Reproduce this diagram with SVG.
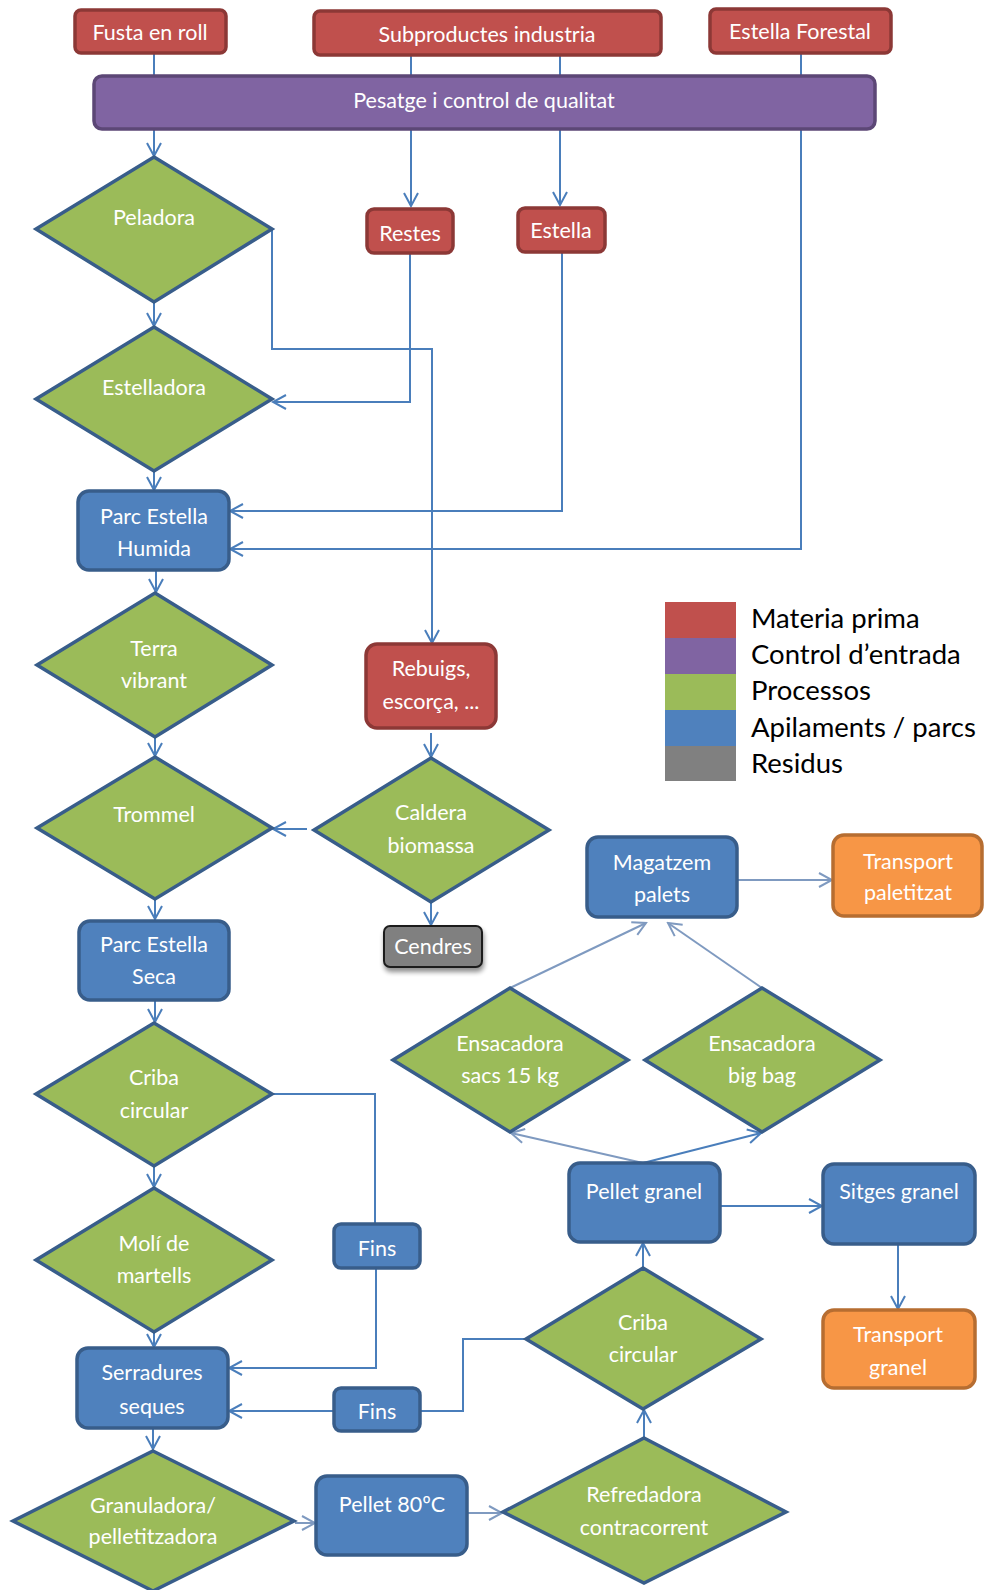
<svg xmlns="http://www.w3.org/2000/svg" width="984" height="1590" viewBox="0 0 984 1590">
<style>
.t{font-family:Lato,"Open Sans","Liberation Sans",sans-serif;font-size:21.5px;fill:#FFFFFF;text-anchor:middle}
.lg{font-family:Lato,"Open Sans","Liberation Sans",sans-serif;font-size:27.5px;fill:#000000}
.red{fill:#C0504D;stroke:#8C3836;stroke-width:3.5}
.pur{fill:#8064A2;stroke:#5C4776;stroke-width:3.5}
.grn{fill:#9BBB59;stroke:#385D8A;stroke-width:3.5;stroke-linejoin:miter}
.blu{fill:#4F81BD;stroke:#385D8A;stroke-width:3.5}
.org{fill:#F79646;stroke:#B66D31;stroke-width:3.5}
.gry{fill:#808080;stroke:#1F1F1F;stroke-width:2}
.c{fill:none;stroke:#4A7EBB;stroke-width:2}
.cl{fill:none;stroke:#7F9AC0;stroke-width:2}
.ca{marker-end:url(#ah)}
.cla{marker-end:url(#ahl)}
</style>
<defs>
<marker id="ah" markerUnits="userSpaceOnUse" markerWidth="16" markerHeight="18" refX="14" refY="8" orient="auto">
<path d="M1,1 L14,8 L1,15" fill="none" stroke="#4A7EBB" stroke-width="2"/>
</marker>
<marker id="ahl" markerUnits="userSpaceOnUse" markerWidth="16" markerHeight="18" refX="14" refY="8" orient="auto">
<path d="M1,1 L14,8 L1,15" fill="none" stroke="#7F9AC0" stroke-width="2"/>
</marker>
<filter id="sh" x="-20%" y="-20%" width="150%" height="160%">
<feGaussianBlur in="SourceAlpha" stdDeviation="2.5"/>
<feOffset dx="1" dy="4" result="b"/>
<feComponentTransfer><feFuncA type="linear" slope="0.45"/></feComponentTransfer>
<feMerge><feMergeNode/><feMergeNode in="SourceGraphic"/></feMerge>
</filter>
</defs>

<g id="connectors">
<path class="c" d="M154,53 V76"/>
<path class="c" d="M411,55 V76"/>
<path class="c" d="M560,55 V76"/>
<path class="c" d="M801,53 V76"/>
<path class="c ca" d="M154,129 V156"/>
<path class="c ca" d="M411,129 V206"/>
<path class="c ca" d="M560,129 V205"/>
<path class="c ca" d="M801,129 V549 H230"/>
<path class="c ca" d="M272,229 V349 H432 V643"/>
<path class="c ca" d="M410,253 V402 H273"/>
<path class="c ca" d="M562,252 V511 H230"/>
<path class="c ca" d="M154,302 V326"/>
<path class="c ca" d="M154,471 V490"/>
<path class="c ca" d="M156,570 V592"/>
<path class="c ca" d="M155,737 V756"/>
<path class="c ca" d="M155,899 V919"/>
<path class="c ca" d="M431,733 V757"/>
<path class="c ca" d="M307,829 H273"/>
<path class="c ca" d="M431,902 V925"/>
<path class="c ca" d="M155,1000 V1022"/>
<path class="c ca" d="M154,1166 V1187"/>
<path class="c ca" d="M154,1332 V1347"/>
<path class="c" d="M272,1094 H375 V1224"/>
<path class="c ca" d="M376,1268 V1368 H229"/>
<path class="c ca" d="M334,1411 H229"/>
<path class="c" d="M526,1339 H463 V1411 H420"/>
<path class="c ca" d="M153,1428 V1449"/>
<path class="cl cla" d="M295,1523 H315"/>
<path class="cl cla" d="M467,1513 H502"/>
<path class="c ca" d="M644,1438 V1410"/>
<path class="c ca" d="M643,1268 V1243"/>
<path class="cl cla" d="M643,1163 L511,1133"/>
<path class="c ca" d="M643,1163 L761,1133"/>
<path class="c ca" d="M720,1206 H822"/>
<path class="c ca" d="M898,1244 V1309"/>
<path class="cl cla" d="M510,988 L646,923"/>
<path class="cl cla" d="M762,988 L668,923"/>
<path class="cl cla" d="M737,880 H832"/>
</g>

<g id="fusta"><rect class="red" x="75" y="10" width="151" height="43" rx="6"/><text class="t" x="150" y="40">Fusta en roll</text></g>
<g id="subproductes"><rect class="red" x="314" y="11" width="347" height="44" rx="6"/><text class="t" x="487" y="42">Subproductes industria</text></g>
<g id="estella-forestal"><rect class="red" x="710" y="9" width="181" height="44" rx="6"/><text class="t" x="800" y="39">Estella Forestal</text></g>
<g id="pesatge"><rect class="pur" x="94" y="76" width="781" height="53" rx="8"/><text class="t" x="484" y="108">Pesatge i control de qualitat</text></g>

<g id="peladora"><polygon class="grn" points="154,157 272,229 154,302 36,229"/><text class="t" x="154" y="225">Peladora</text></g>
<g id="restes"><rect class="red" x="367" y="209" width="86" height="44" rx="7"/><text class="t" x="410" y="241">Restes</text></g>
<g id="estella"><rect class="red" x="518" y="208" width="87" height="44" rx="7"/><text class="t" x="561" y="238">Estella</text></g>
<g id="estelladora"><polygon class="grn" points="154,327 272,399 154,471 36,399"/><text class="t" x="154" y="395">Estelladora</text></g>
<g id="parc-humida"><rect class="blu" x="78" y="491" width="151" height="79" rx="11"/><text class="t" x="154" y="524">Parc Estella</text><text class="t" x="154" y="556">Humida</text></g>
<g id="terra"><polygon class="grn" points="155,593 272,665 155,737 37,665"/><text class="t" x="154" y="656">Terra</text><text class="t" x="154" y="688">vibrant</text></g>
<g id="rebuigs"><rect class="red" x="366" y="644" width="130" height="84" rx="11"/><text class="t" x="431" y="676">Rebuigs,</text><text class="t" x="431" y="709">escorça, ...</text></g>
<g id="trommel"><polygon class="grn" points="155,757 272,828 155,899 37,828"/><text class="t" x="154" y="822">Trommel</text></g>
<g id="caldera"><polygon class="grn" points="431,758 549,830 431,902 314,830"/><text class="t" x="431" y="820">Caldera</text><text class="t" x="431" y="853">biomassa</text></g>
<g id="cendres"><rect class="gry" x="384" y="926" width="98" height="41" rx="6" filter="url(#sh)"/><text class="t" x="433" y="954">Cendres</text></g>
<g id="parc-seca"><rect class="blu" x="79" y="921" width="150" height="79" rx="11"/><text class="t" x="154" y="952">Parc Estella</text><text class="t" x="154" y="984">Seca</text></g>

<g id="legend">
<rect x="665" y="602" width="71" height="36" fill="#C0504D"/>
<rect x="665" y="638" width="71" height="36" fill="#8064A2"/>
<rect x="665" y="674" width="71" height="36" fill="#9BBB59"/>
<rect x="665" y="710" width="71" height="36" fill="#4F81BD"/>
<rect x="665" y="746" width="71" height="35" fill="#808080"/>
<text class="lg" x="751" y="628">Materia prima</text>
<text class="lg" x="751" y="664">Control d’entrada</text>
<text class="lg" x="751" y="700">Processos</text>
<text class="lg" x="751" y="737">Apilaments / parcs</text>
<text class="lg" x="751" y="773">Residus</text>
</g>

<g id="magatzem"><rect class="blu" x="587" y="837" width="150" height="80" rx="11"/><text class="t" x="662" y="870">Magatzem</text><text class="t" x="662" y="902">palets</text></g>
<g id="transport-paletitzat"><rect class="org" x="833" y="835" width="149" height="81" rx="11"/><text class="t" x="908" y="869">Transport</text><text class="t" x="908" y="900">paletitzat</text></g>
<g id="ensacadora-sacs"><polygon class="grn" points="510,988 628,1060 510,1132 393,1060"/><text class="t" x="510" y="1051">Ensacadora</text><text class="t" x="510" y="1083">sacs 15 kg</text></g>
<g id="ensacadora-bigbag"><polygon class="grn" points="762,988 880,1060 762,1132 645,1060"/><text class="t" x="762" y="1051">Ensacadora</text><text class="t" x="762" y="1083">big bag</text></g>
<g id="criba-1"><polygon class="grn" points="154,1023 272,1094 154,1166 36,1094"/><text class="t" x="154" y="1085">Criba</text><text class="t" x="154" y="1118">circular</text></g>
<g id="moli"><polygon class="grn" points="154,1188 272,1260 154,1332 36,1260"/><text class="t" x="154" y="1251">Molí de</text><text class="t" x="154" y="1283">martells</text></g>
<g id="fins-1"><rect class="blu" x="334" y="1224" width="86" height="44" rx="7"/><text class="t" x="377" y="1256">Fins</text></g>
<g id="fins-2"><rect class="blu" x="334" y="1388" width="86" height="43" rx="7"/><text class="t" x="377" y="1419">Fins</text></g>
<g id="serradures"><rect class="blu" x="77" y="1348" width="151" height="80" rx="11"/><text class="t" x="152" y="1380">Serradures</text><text class="t" x="152" y="1414">seques</text></g>
<g id="pellet-granel"><rect class="blu" x="569" y="1163" width="151" height="79" rx="11"/><text class="t" x="644" y="1199">Pellet granel</text></g>
<g id="sitges"><rect class="blu" x="823" y="1164" width="152" height="80" rx="11"/><text class="t" x="899" y="1199">Sitges granel</text></g>
<g id="criba-2"><polygon class="grn" points="643,1268 761,1339 643,1409 526,1339"/><text class="t" x="643" y="1330">Criba</text><text class="t" x="643" y="1362">circular</text></g>
<g id="transport-granel"><rect class="org" x="823" y="1310" width="152" height="78" rx="11"/><text class="t" x="898" y="1342">Transport</text><text class="t" x="898" y="1375">granel</text></g>
<g id="granuladora"><polygon class="grn" points="153,1451 294,1521 153,1591 13,1521"/><text class="t" x="153" y="1513">Granuladora/</text><text class="t" x="153" y="1544">pelletitzadora</text></g>
<g id="pellet80"><rect class="blu" x="316" y="1476" width="151" height="79" rx="11"/><text class="t" x="392" y="1512">Pellet 80ºC</text></g>
<g id="refredadora"><polygon class="grn" points="644,1438 786,1512 644,1583 503,1512"/><text class="t" x="644" y="1502">Refredadora</text><text class="t" x="644" y="1535">contracorrent</text></g>
</svg>
